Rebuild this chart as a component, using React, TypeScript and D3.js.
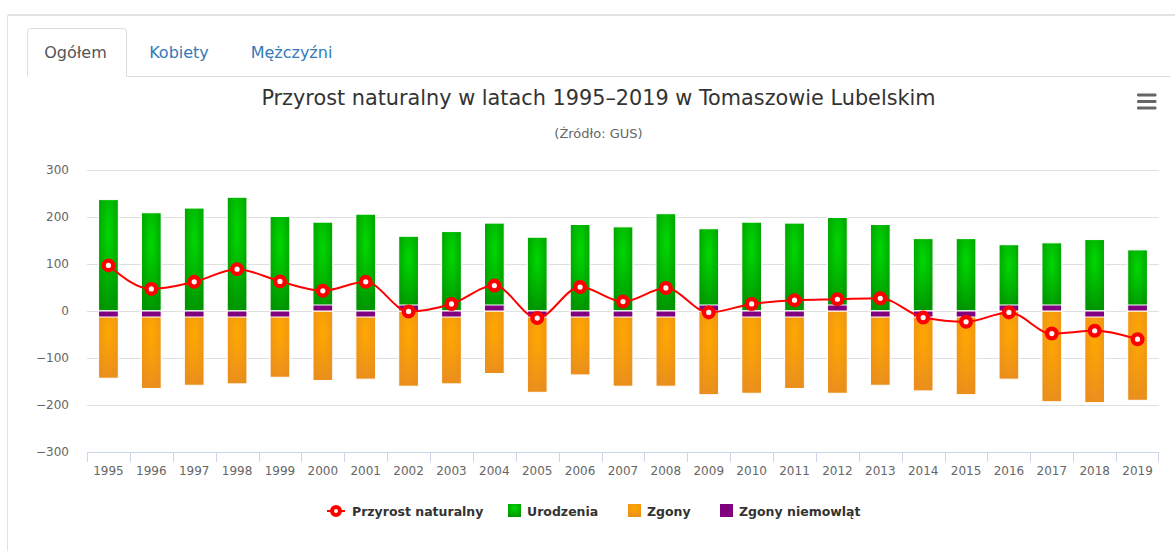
import React from "react";
import * as d3 from "d3";

const years = ["1995","1996","1997","1998","1999","2000","2001","2002","2003","2004","2005","2006","2007","2008","2009","2010","2011","2012","2013","2014","2015","2016","2017","2018","2019"];
const urodzenia = [237,209,219,242,201,189,206,159,169,187,157,184,179,207,175,189,187,199,184,154,154,141,145,152,130];
const zgony = [143,165,158,155,141,148,145,160,155,133,173,136,160,160,178,175,165,175,158,170,178,145,193,195,190];
const zgonyNiemowlat = [3,2,2,1,2,0,1,0,1,0,2,1,1,1,0,1,1,0,1,1,1,0,0,1,0];
const przyrost = [97,47,62,89,63,43,62,-1,15,54,-15,51,20,49,-3,15,23,25,27,-14,-23,-3,-48,-42,-60];
const yTicks = [300,200,100,0,-100,-200,-300];
const legendItems = ["Przyrost naturalny","Urodzenia","Zgony","Zgony niemowląt"];
const tabs = ["Ogółem","Kobiety","Mężczyźni"];

const W = 1175, H = 551;
const plot = { left: 87, right: 1159, top: 170, bottom: 452 };
const FONT = "'DejaVu Sans', Verdana, sans-serif";

export default function App() {
  const x = d3.scaleBand<string>().domain(years).range([plot.left, plot.right]).padding(0);
  const y = d3.scaleLinear().domain([-300, 300]).range([plot.bottom, plot.top]);
  const bw = x.bandwidth() * 0.46;
  const cx = (yr: string) => (x(yr) as number) + x.bandwidth() / 2;
  const minLen = 6;

  const line = d3.line<number>()
    .x((_, i) => cx(years[i]))
    .y((d) => y(d))
    .curve(d3.curveMonotoneX);

  const legendX = [327, 508, 628, 720];

  return (
    <svg width={W} height={H} style={{ position: "absolute", left: 0, top: 0, background: "#fff" }} fontFamily={FONT}>
      <defs>
        <radialGradient id="gGreen" cx="0.5" cy="0.3" r="0.7">
          <stop offset="0" stopColor="#00d800" />
          <stop offset="1" stopColor="#009600" />
        </radialGradient>
        <radialGradient id="gOrange" cx="0.5" cy="0.3" r="0.7">
          <stop offset="0" stopColor="#ffa800" />
          <stop offset="1" stopColor="#ea8f1c" />
        </radialGradient>
      </defs>

      {/* page frame */}
      <line x1={8} x2={W} y1={15} y2={15} stroke="#e3e3e3" strokeWidth={2} />
      <line x1={7.5} x2={7.5} y1={15} y2={H} stroke="#e3e3e3" strokeWidth={1} />

      {/* tabs */}
      <path d="M27.5,76.5 L27.5,32 Q27.5,28.5 31,28.5 L123,28.5 Q126.5,28.5 126.5,32 L126.5,76.5" fill="#fff" stroke="#ddd" />
      <line x1={126.5} x2={1170} y1={76.5} y2={76.5} stroke="#ddd" />
      {tabs.map((t, i) => (
        <text key={t} x={[75.5, 179, 291.5][i]} y={58} textAnchor="middle" fontSize={16} fill={i === 0 ? "#555" : "#337ab7"}>{t}</text>
      ))}

      {/* title */}
      <text x={598.5} y={105} textAnchor="middle" fontSize={20.8} fill="#333">Przyrost naturalny w latach 1995–2019 w Tomaszowie Lubelskim</text>
      <text x={598.5} y={138} textAnchor="middle" fontSize={13} fill="#666">(Źródło: GUS)</text>

      {/* hamburger */}
      {[0, 1, 2].map((i) => (
        <rect key={i} x={1137} y={93.5 + i * 6.5} width={19.5} height={3} rx={1.2} fill="#666" />
      ))}

      {/* grid */}
      {yTicks.slice(0, -1).map((t) => (
        <line key={t} x1={plot.left} x2={plot.right} y1={Math.round(y(t)) + 0.5} y2={Math.round(y(t)) + 0.5} stroke="#e0e0e0" />
      ))}
      {yTicks.map((t) => (
        <text key={t} x={69} y={y(t) + 4} textAnchor="end" fontSize={12} fill="#666">{t === 0 ? "0" : (t < 0 ? "\u2212" + Math.abs(t) : String(t))}</text>
      ))}

      {/* bars */}
      {years.map((yr, i) => (
        <g key={yr}>
          <rect x={cx(yr) - bw / 2} y={y(urodzenia[i])} width={bw} height={y(0) - y(urodzenia[i])} fill="url(#gGreen)" stroke="#fff" strokeWidth={1} />
          <rect x={cx(yr) - bw / 2} y={y(0)} width={bw} height={y(-zgony[i]) - y(0)} fill="url(#gOrange)" stroke="#fff" strokeWidth={1} />
          {(() => {
            const v = -zgonyNiemowlat[i];
            const len = Math.max(Math.abs(y(v) - y(0)), minLen);
            const top = v < 0 ? y(0) : y(0) - len;
            return <rect x={cx(yr) - bw / 2} y={top} width={bw} height={len} fill="#800080" stroke="#fff" strokeWidth={1} />;
          })()}
        </g>
      ))}

      {/* x axis */}
      <line x1={plot.left} x2={plot.right} y1={plot.bottom + 0.5} y2={plot.bottom + 0.5} stroke="#ccd6eb" />
      {years.map((yr) => (
        <line key={"t" + yr} x1={Math.round(x(yr) as number) + 0.5} x2={Math.round(x(yr) as number) + 0.5} y1={plot.bottom} y2={plot.bottom + 10} stroke="#ccd6eb" />
      ))}
      <line x1={plot.right - 0.5} x2={plot.right - 0.5} y1={plot.bottom} y2={plot.bottom + 10} stroke="#ccd6eb" />
      {years.map((yr) => (
        <text key={"l" + yr} x={cx(yr)} y={475} textAnchor="middle" fontSize={12} fill="#666">{yr}</text>
      ))}

      {/* line */}
      <path d={line(przyrost) || ""} fill="none" stroke="#ff0000" strokeWidth={2} />
      {przyrost.map((v, i) => (
        <circle key={"m" + i} cx={cx(years[i])} cy={y(v)} r={4.8} fill="#fff" stroke="#ff0000" strokeWidth={4.4} />
      ))}

      {/* legend */}
      <g fontSize={12.5} fontWeight="bold" fill="#333">
        <line x1={legendX[0]} x2={legendX[0] + 18} y1={511} y2={511} stroke="#ff0000" strokeWidth={2} />
        <circle cx={legendX[0] + 9} cy={511} r={4} fill="#fff" stroke="#ff0000" strokeWidth={4} />
        <text x={legendX[0] + 25} y={516}>{legendItems[0]}</text>
        <rect x={legendX[1]} y={504} width={13} height={13} fill="url(#gGreen)" />
        <text x={legendX[1] + 19} y={516}>{legendItems[1]}</text>
        <rect x={legendX[2]} y={504} width={13} height={13} fill="url(#gOrange)" />
        <text x={legendX[2] + 19} y={516}>{legendItems[2]}</text>
        <rect x={legendX[3]} y={504} width={13} height={13} fill="#800080" />
        <text x={legendX[3] + 19} y={516}>{legendItems[3]}</text>
      </g>
    </svg>
  );
}
